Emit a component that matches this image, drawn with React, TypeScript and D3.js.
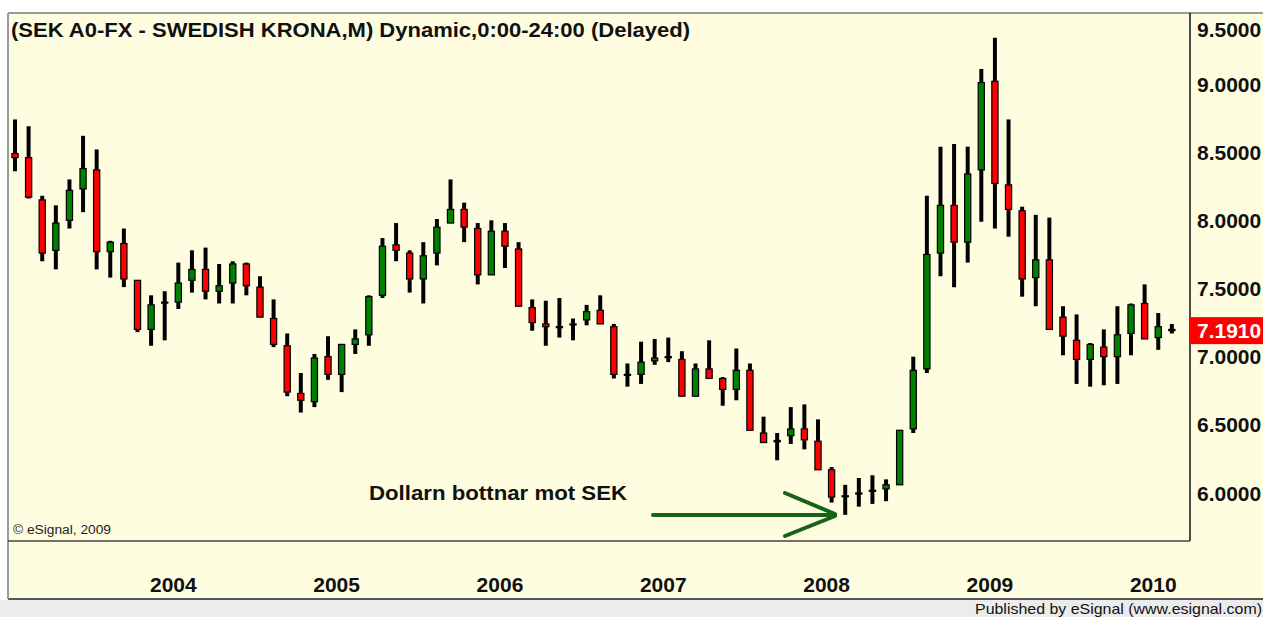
import React from "react";
import * as d3 from "d3";

// Monthly candles, Jan 2003 .. Feb 2010 (USD/SEK)
const months: string[] = d3
  .timeMonths(new Date(2003, 0, 1), new Date(2010, 2, 1))
  .map((d) => d3.timeFormat("%Y-%m")(d));

const opens = [
  8.49, 8.46, 8.15, 7.78, 8.0, 8.23, 8.37, 7.77, 7.83, 7.56, 7.2, 7.4,
  7.4, 7.56, 7.64, 7.48, 7.54, 7.68, 7.51, 7.28, 7.08, 6.73, 6.67, 7.0,
  6.87, 7.09, 7.16, 7.45, 7.82, 7.76, 7.57, 7.76, 7.98, 8.08, 7.94, 7.6,
  7.92, 7.79, 7.36, 7.24, 7.22, 7.24, 7.27, 7.34, 7.22, 6.87, 6.87, 6.97,
  7.0, 6.98, 6.71, 6.91, 6.84, 6.76, 6.9, 6.44, 6.375, 6.42, 6.47, 6.38,
  6.17, 5.98, 6.0, 6.02, 6.03, 6.06, 6.47, 6.91, 7.76, 8.11, 7.84, 8.37,
  9.02, 8.26, 8.07, 7.58, 7.71, 7.29, 7.12, 6.98, 7.07, 7.0, 7.17, 7.39,
  7.14, 7.2,
];
const highs = [
  8.74, 8.69, 8.18, 8.11, 8.3, 8.62, 8.52, 7.85, 7.94, 7.56, 7.45, 7.48,
  7.69, 7.78, 7.8, 7.68, 7.7, 7.69, 7.59, 7.42, 7.17, 6.88, 7.02, 7.15,
  7.09, 7.2, 7.45, 7.87, 7.98, 7.78, 7.84, 8.01, 8.3, 8.13, 7.98, 8.0,
  7.98, 7.84, 7.42, 7.41, 7.43, 7.28, 7.38, 7.45, 7.24, 6.95, 7.11, 7.13,
  7.14, 7.04, 6.95, 7.12, 6.85, 7.06, 6.95, 6.56, 6.44, 6.63, 6.65, 6.54,
  6.19, 6.06, 6.11, 6.13, 6.1, 6.46, 7.0, 8.18, 8.54, 8.56, 8.54, 9.11,
  9.34, 8.74, 8.1, 8.04, 8.02, 7.37, 7.31, 7.1, 7.2, 7.37, 7.39, 7.53,
  7.32, 7.24,
];
const lows = [
  8.36, 8.16, 7.7, 7.64, 7.94, 8.06, 7.64, 7.58, 7.51, 7.18, 7.08, 7.12,
  7.35, 7.47, 7.42, 7.39, 7.39, 7.45, 7.29, 7.07, 6.71, 6.59, 6.63, 6.83,
  6.74, 7.02, 7.08, 7.43, 7.7, 7.47, 7.39, 7.67, 7.98, 7.84, 7.53, 7.6,
  7.65, 7.37, 7.19, 7.08, 7.14, 7.12, 7.23, 7.24, 6.84, 6.78, 6.8, 6.94,
  6.96, 6.71, 6.71, 6.84, 6.64, 6.68, 6.46, 6.37, 6.24, 6.36, 6.32, 6.17,
  5.93, 5.84, 5.9, 5.92, 5.94, 6.06, 6.44, 6.88, 7.59, 7.51, 7.69, 7.99,
  7.94, 7.88, 7.44, 7.37, 7.2, 7.01, 6.8, 6.78, 6.79, 6.8, 7.01, 7.13,
  7.05, 7.17,
];
const closes = [
  8.46, 8.17, 7.76, 7.98, 8.22, 8.38, 7.77, 7.84, 7.57, 7.2, 7.38, 7.4,
  7.54, 7.64, 7.48, 7.52, 7.68, 7.52, 7.29, 7.09, 6.74, 6.68, 6.99, 6.87,
  7.09, 7.13, 7.44, 7.81, 7.78, 7.57, 7.74, 7.95, 8.08, 7.95, 7.6, 7.92,
  7.81, 7.37, 7.25, 7.22, 7.22, 7.24, 7.33, 7.24, 6.87, 6.87, 6.96, 6.99,
  7.0, 6.71, 6.91, 6.84, 6.76, 6.9, 6.46, 6.37, 6.385, 6.47, 6.39, 6.17,
  5.97, 5.98, 6.0, 6.02, 6.06, 6.46, 6.9, 7.75, 8.11, 7.84, 8.34, 9.01,
  8.27, 8.08, 7.57, 7.71, 7.2, 7.15, 6.98, 7.09, 7.0, 7.16, 7.38, 7.13,
  7.22, 7.191,
];

const yTicks = [6.0, 6.5, 7.0, 7.5, 8.0, 8.5, 9.0, 9.5];
const yearLabels = ["2004", "2005", "2006", "2007", "2008", "2009", "2010"];
const lastPrice = 7.191;

const titleText = "(SEK A0-FX - SWEDISH KRONA,M) Dynamic,0:00-24:00 (Delayed)";
const annotationText = "Dollarn bottnar mot SEK";

const W = 1263;
const H = 617;
const FONT = "'Liberation Sans', Arial, sans-serif";
const BG = "#FFFDE0";

export default function App() {
  const plotLeft = 8;
  const plotRight = 1190;
  const plotTop = 13;
  const plotBottom = 541;

  const x = d3
    .scaleBand<string>()
    .domain(months)
    .range([15 - 6.805, 15 + (months.length - 1) * 13.61 + 6.805])
    .padding(0);
  const cx = (m: string) => (x(m) as number) + x.bandwidth() / 2;

  const y = d3.scaleLinear().domain([6, 9]).range([493, 84]);
  const fmt = d3.format(".4f");

  const bodyW = 6.2;

  const candles = months.map((m, i) => {
    const o = opens[i];
    const c = closes[i];
    const up = c > o;
    const top = y(Math.max(o, c));
    const bot = y(Math.min(o, c));
    return { m, i, o, c, h: highs[i], l: lows[i], up, top, bot };
  });

  const arrowY = 515;
  const arrowX0 = 653;
  const arrowX1 = 835;

  return (
    <svg
      width={W}
      height={H}
      style={{ position: "absolute", left: 0, top: 0, display: "block" }}
      fontFamily={FONT}
    >
      <rect x={0} y={0} width={W} height={H} fill="#ffffff" />
      {/* chart background */}
      <rect x={plotLeft} y={plotTop} width={W - plotLeft} height={599 - plotTop} fill={BG} />
      {/* bottom status band */}
      <rect x={0} y={600} width={W} height={H - 600} fill="#ECECEC" />
      <line x1={plotLeft} x2={W} y1={599} y2={599} stroke="#555" strokeWidth={2} />
      {/* outer frame */}
      <line x1={plotLeft} x2={W} y1={plotTop} y2={plotTop} stroke="#9a9a9a" strokeWidth={2} />
      <line x1={plotLeft} x2={plotLeft} y1={plotTop} y2={599} stroke="#9a9a9a" strokeWidth={2} />
      {/* plot border */}
      <line x1={plotRight} x2={plotRight} y1={plotTop} y2={plotBottom} stroke="#111" strokeWidth={1.5} />
      <line x1={plotLeft} x2={plotRight} y1={plotBottom} y2={plotBottom} stroke="#444" strokeWidth={1.5} />

      {/* title */}
      <text
        x={11}
        y={37}
        fontSize={20}
        fontWeight="bold"
        fill="#111"
        textLength={679}
        lengthAdjust="spacingAndGlyphs"
      >
        {titleText}
      </text>

      {/* candles */}
      <g>
        {candles.map((d) => (
          <g key={d.m}>
            <line
              x1={cx(d.m)}
              x2={cx(d.m)}
              y1={y(d.h)}
              y2={y(d.l)}
              stroke="#000"
              strokeWidth={4}
            />
            <rect
              x={cx(d.m) - bodyW / 2}
              y={d.top}
              width={bodyW}
              height={Math.max(1, d.bot - d.top)}
              fill={d.up ? "#008000" : "#FF0000"}
              stroke="#000"
              strokeWidth={1.2}
            />
          </g>
        ))}
      </g>

      {/* y axis labels */}
      {yTicks.map((t) => (
        <text
          key={t}
          x={1197}
          y={Math.max(y(t), 29)}
          dy="0.36em"
          fontSize={21}
          fontWeight="bold"
          fill="#111"
        >
          {fmt(t)}
        </text>
      ))}

      {/* last price tag */}
      <rect x={plotRight} y={y(lastPrice) - 13.5} width={W - plotRight} height={27} fill="#FF0000" />
      <text
        x={1197}
        y={y(lastPrice)}
        dy="0.36em"
        fontSize={21}
        fontWeight="bold"
        fill="#ffffff"
      >
        {fmt(lastPrice)}
      </text>

      {/* x axis year labels */}
      {yearLabels.map((yr) => (
        <text
          key={yr}
          x={cx(`${yr}-01`) - 5}
          y={592}
          textAnchor="middle"
          fontSize={21}
          fontWeight="bold"
          fill="#111"
        >
          {yr}
        </text>
      ))}

      {/* annotation */}
      <text
        x={369}
        y={500}
        fontSize={20}
        fontWeight="bold"
        fill="#111"
        textLength={258}
        lengthAdjust="spacingAndGlyphs"
      >
        {annotationText}
      </text>
      <g stroke="#166316" strokeWidth={4} strokeLinecap="round" fill="none">
        <line x1={arrowX0} x2={arrowX1} y1={arrowY} y2={arrowY} />
        <line x1={785} y1={493} x2={arrowX1} y2={arrowY - 1} />
        <line x1={785} y1={536} x2={arrowX1} y2={arrowY + 1} />
      </g>

      {/* copyright */}
      <text x={13} y={534} fontSize={12} fill="#222" textLength={98} lengthAdjust="spacingAndGlyphs">
        © eSignal, 2009
      </text>

      {/* footer */}
      <text
        x={975}
        y={614}
        fontSize={15}
        fill="#111"
        textLength={287}
        lengthAdjust="spacingAndGlyphs"
      >
        Published by eSignal (www.esignal.com)
      </text>
    </svg>
  );
}
